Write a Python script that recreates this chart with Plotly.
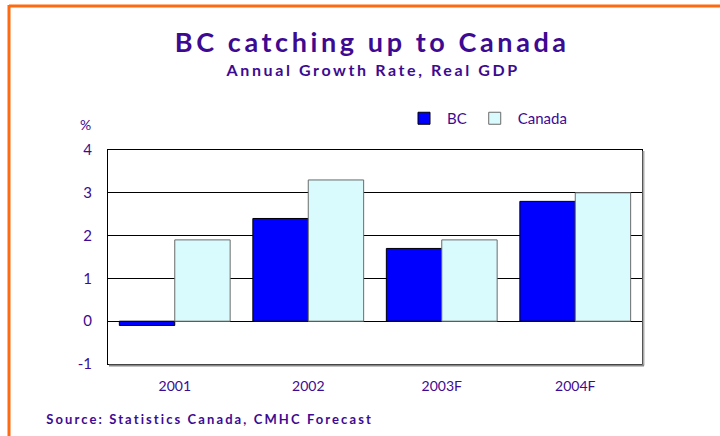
import plotly.graph_objects as go

categories = ["2001", "2002", "2003F", "2004F"]
bc_values = [-0.1, 2.4, 1.7, 2.8]
canada_values = [1.9, 3.3, 1.9, 3.0]
y_ticks = [-1, 0, 1, 2, 3, 4]
y_tick_labels = ["-1", "0", "1", "2", "3", "4"]

W, H = 720, 436
L, R, T, B = 108, 642, 150, 364
PURPLE = "#3d0a91"
FONT = "Lato"

def px(x):
    return (x - L) / (R - L)

def py(y):
    return (B - y) / (B - T)

fig = go.Figure()
fig.add_trace(go.Bar(name="BC", x=categories, y=bc_values,
                     marker=dict(color="#0000ff", line=dict(color="#000000", width=1))))
fig.add_trace(go.Bar(name="Canada", x=categories, y=canada_values,
                     marker=dict(color="#d9fbfd", line=dict(color="#6a6a6a", width=1))))

fig.update_layout(
    width=W, height=H,
    margin=dict(l=L, r=W - R, t=T, b=H - B),
    paper_bgcolor="white", plot_bgcolor="white",
    barmode="group", bargap=0.17, bargroupgap=0,
    font=dict(family=FONT, color=PURPLE, size=15),
    showlegend=True,
    legend=dict(orientation="h", x=px(401), y=py(102), xanchor="left", yanchor="top",
                font=dict(size=15, color=PURPLE), itemwidth=36, traceorder="normal",
                bgcolor="rgba(0,0,0,0)"),
    xaxis=dict(showline=True, linecolor="black", linewidth=1, mirror=True,
               ticks="", tickfont=dict(size=14, color=PURPLE), showgrid=False,
               ticklabelstandoff=9),
    yaxis=dict(range=[-1, 4], tickvals=y_ticks, ticktext=y_tick_labels,
               showline=True, linecolor="black", linewidth=1, mirror=True,
               showgrid=True, gridcolor="black", gridwidth=1,
               zeroline=True, zerolinecolor="black", zerolinewidth=1,
               ticks="", ticklen=0, tickfont=dict(size=15, color=PURPLE),
               ticklabelstandoff=12),
    shapes=[
        dict(type="line", xref="paper", yref="paper", x0=px(9), x1=px(725), y0=py(6), y1=py(6),
             line=dict(color="#ff6a10", width=3), layer="above"),
        dict(type="line", xref="paper", yref="paper", x0=px(9), x1=px(9), y0=py(5), y1=py(445),
             line=dict(color="#ff6a10", width=3), layer="above"),
        dict(type="line", xref="paper", yref="paper", x0=px(R + 1.5), x1=px(R + 1.5), y0=py(T + 1), y1=py(B + 1.5),
             line=dict(color="#aaaaaa", width=2), layer="above"),
        dict(type="line", xref="paper", yref="paper", x0=px(L + 1), x1=px(R + 2), y0=py(B + 1.5), y1=py(B + 1.5),
             line=dict(color="#888888", width=2), layer="above"),
    ],
    annotations=[
        dict(text="<b>BC catching up to Canada</b>", xref="paper", yref="paper",
             x=px(372), y=py(42), xanchor="center", yanchor="middle", showarrow=False,
             font=dict(size=27, color=PURPLE, family=FONT)),
        dict(text="<b>Annual Growth Rate, Real GDP</b>", xref="paper", yref="paper",
             x=px(372), y=py(70), xanchor="center", yanchor="middle", showarrow=False,
             font=dict(size=16, color=PURPLE, family=FONT)),
        dict(text="%", xref="paper", yref="paper",
             x=px(85), y=py(124), xanchor="center", yanchor="middle", showarrow=False,
             font=dict(size=14, color=PURPLE, family=FONT)),
        dict(text="<b>Source: Statistics Canada, CMHC Forecast</b>", xref="paper", yref="paper",
             x=px(209), y=py(419), xanchor="center", yanchor="middle", showarrow=False,
             font=dict(size=13, color=PURPLE, family=FONT)),
    ],
)

post = """
var gd = document.getElementById('{plot_id}');
var sp = {'0': '3.6px', '1': '2.6px', '3': '2.1px'};
gd.querySelectorAll('.annotation').forEach(function(a){
  var i = a.getAttribute('data-index');
  if (sp[i] !== undefined) {
    a.querySelectorAll('text').forEach(function(t){ t.style.letterSpacing = sp[i]; });
  }
});
"""

fig.write_html("out.html", post_script=post)
